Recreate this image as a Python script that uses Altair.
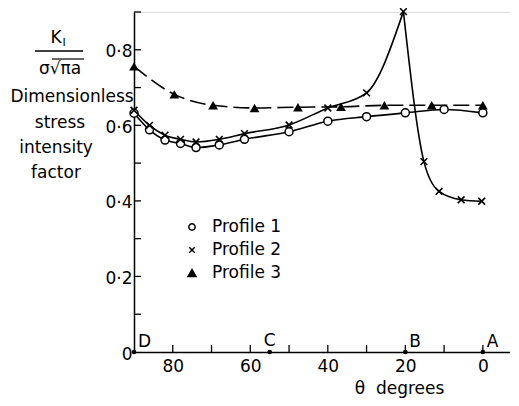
import altair as alt
import pandas as pd

FONT = "DejaVu Sans"

# ---- data ----
p1_theta = [90, 86, 82, 78, 74, 68, 61.5, 50, 40, 30, 20, 10, 0]
p1_value = [0.632, 0.588, 0.561, 0.552, 0.541, 0.548, 0.563, 0.583, 0.611, 0.623, 0.633, 0.642, 0.633]

p2_theta = [90, 86, 82, 78, 74, 68, 61.5, 50, 40, 30, 20.5, 15.2, 11.3, 5.6, 0.3]
p2_value = [0.640, 0.600, 0.574, 0.563, 0.556, 0.563, 0.578, 0.601, 0.646, 0.686, 0.901, 0.504, 0.425, 0.403, 0.399]
p2_peak_index = 10

p3_theta = [90, 79.6, 69.6, 58.9, 47.7, 36.6, 25.4, 13.2, 0]
p3_value = [0.756, 0.682, 0.653, 0.646, 0.648, 0.649, 0.653, 0.653, 0.653]

point_names = ["D", "C", "B", "A"]
point_theta = [90, 55, 20, 0]

x_tick_values = [0, 10, 20, 30, 40, 50, 60, 70, 80]
x_label_values = [0, 20, 40, 60, 80]
y_tick_values = [0.1, 0.2, 0.3, 0.4, 0.5, 0.6, 0.7, 0.8, 0.9]
y_label_values = [0, 0.2, 0.4, 0.6, 0.8]

legend_names = ["Profile 1", "Profile 2", "Profile 3"]

# ---- frames ----
df1 = pd.DataFrame({"theta": p1_theta, "value": p1_value})
df2 = pd.DataFrame({"theta": p2_theta, "value": p2_value})
df3 = pd.DataFrame({"theta": p3_theta, "value": p3_value})
rise = df2.iloc[: p2_peak_index + 1].assign(seg="rise")
fall = df2.iloc[p2_peak_index:].assign(seg="fall")
dfp = pd.DataFrame({"theta": point_theta, "value": [0] * len(point_theta), "name": point_names})
dfxt = pd.DataFrame({"theta": x_tick_values})
dfyt = pd.DataFrame({"value": y_tick_values})

W, H = 376, 340
xscale = alt.Scale(domain=[90, -7], nice=False, zero=False)
yscale = alt.Scale(domain=[0, 0.9], nice=False, zero=False)

xaxis = alt.Axis(values=x_label_values, tickSize=0, labelPadding=6, grid=False,
                 domainColor="black", domainWidth=1.5, labelFontSize=17, labelFont=FONT,
                 labelColor="black", title="θ\u00a0\u00a0degrees", titleFont=FONT, titleFontSize=17,
                 titleFontWeight="normal", titleColor="black", titleX=265, titleY=41,
                 titleBaseline="alphabetic", titleAnchor="middle", titleAlign="center")
yaxis = alt.Axis(values=y_label_values, tickSize=0, labelPadding=2, grid=False,
                 domainColor="black", domainWidth=1.5, labelFontSize=17, labelFont=FONT,
                 labelColor="black", labelOffset=2, title=None,
                 labelExpr="datum.value == 0 ? '0' : replace(format(datum.value, '.1f'), '.', '·')")

X = alt.X("theta:Q", scale=xscale, axis=xaxis)
Y = alt.Y("value:Q", scale=yscale, axis=yaxis)

line1 = alt.Chart(df1).mark_line(interpolate="monotone", color="black", strokeWidth=1.6).encode(x=X, y=Y)
line2a = alt.Chart(rise).mark_line(interpolate="monotone", color="black", strokeWidth=1.6).encode(x=X, y=Y)
line2b = alt.Chart(fall).mark_line(interpolate="monotone", color="black", strokeWidth=1.6).encode(x=X, y=Y)
line3 = alt.Chart(df3).mark_line(interpolate="monotone", color="black", strokeWidth=1.6,
                                 strokeDash=[16, 6]).encode(x=X, y=Y)

CROSS = "M-1,-1L1,1M-1,1L1,-1"
pts1 = alt.Chart(df1).mark_point(shape="circle", size=64, filled=True, fill="white",
                                 stroke="black", strokeWidth=1.5, opacity=1).encode(x=X, y=Y)
pts2 = alt.Chart(df2).mark_point(shape=CROSS, size=45, stroke="black", strokeWidth=1.6,
                                 opacity=1).encode(x=X, y=Y)
pts3 = alt.Chart(df3).mark_point(shape="triangle-up", size=95, filled=True, color="black",
                                 opacity=1).encode(x=X, y=Y)

xticks = alt.Chart(dfxt).mark_rule(color="black", strokeWidth=1.3).encode(
    x=X, y=alt.value(H), y2=alt.value(H - 7))
yticks = alt.Chart(dfyt).mark_rule(color="black", strokeWidth=1.3).encode(
    y=Y, x=alt.value(0), x2=alt.value(7))

dots = alt.Chart(dfp).mark_point(shape="circle", size=22, filled=True, color="black", opacity=1).encode(x=X, y=Y)
lab_left = alt.Chart(dfp).transform_filter("datum.name != 'C'").mark_text(
    align="left", baseline="middle", dx=4, dy=-10, fontSize=17, font=FONT, color="black").encode(
    x=X, y=Y, text="name:N")
lab_c = alt.Chart(dfp).transform_filter("datum.name == 'C'").mark_text(
    align="center", baseline="middle", dx=0, dy=-11, fontSize=17, font=FONT, color="black").encode(
    x=X, y=Y, text="name:N")

def txt(s, x, y, size=17, align="center"):
    return alt.Chart(pd.DataFrame({"t": [s]})).mark_text(
        align=align, baseline="middle", fontSize=size, font=FONT, color="black").encode(
        text="t:N", x=alt.value(x), y=alt.value(y))

def rule(x1, x2, y, w=1.5):
    return alt.Chart(pd.DataFrame({"a": [0]})).mark_rule(color="black", strokeWidth=w).encode(
        x=alt.value(x1), x2=alt.value(x2), y=alt.value(y))

ytitle = [
    txt("K", -78, 26),
    txt("I", -70, 31, size=11),
    rule(-99, -51, 39),
    txt("σ√πa", -74, 57),
    rule(-82, -50, 47, w=1.2),
    txt("Dimensionless", -62, 85),
    txt("stress", -74, 111),
    txt("intensity", -78, 136),
    txt("factor", -78, 161),
]

leg = []
leg_shapes = [("circle", 40, "white"), (CROSS, 30, None), ("triangle-up", 64, "black")]
for i, (name, (shp, sz, fill)) in enumerate(zip(legend_names, leg_shapes)):
    yy = 215 + 23 * i
    d = pd.DataFrame({"n": [name]})
    if fill is None:
        m = alt.Chart(d).mark_point(shape=shp, size=sz, stroke="black", strokeWidth=1.5, opacity=1)
    else:
        m = alt.Chart(d).mark_point(shape=shp, size=sz, filled=True, fill=fill, stroke="black",
                                    strokeWidth=1.5, opacity=1)
    leg.append(m.encode(x=alt.value(58), y=alt.value(yy)))
    leg.append(txt(name, 78, yy, align="left"))

chart = alt.layer(
    line1, line2a, line2b, line3, pts1, pts2, pts3, xticks, yticks, dots, lab_left, lab_c, *ytitle, *leg
).properties(
    width=W, height=H,
    autosize=alt.AutoSizeParams(type="none"),
    padding={"left": 126, "top": 4, "right": 0, "bottom": 46},
).configure_view(stroke=None).configure(background="white")

chart.save("out.html", embed_options={"renderer": "svg", "actions": False})
